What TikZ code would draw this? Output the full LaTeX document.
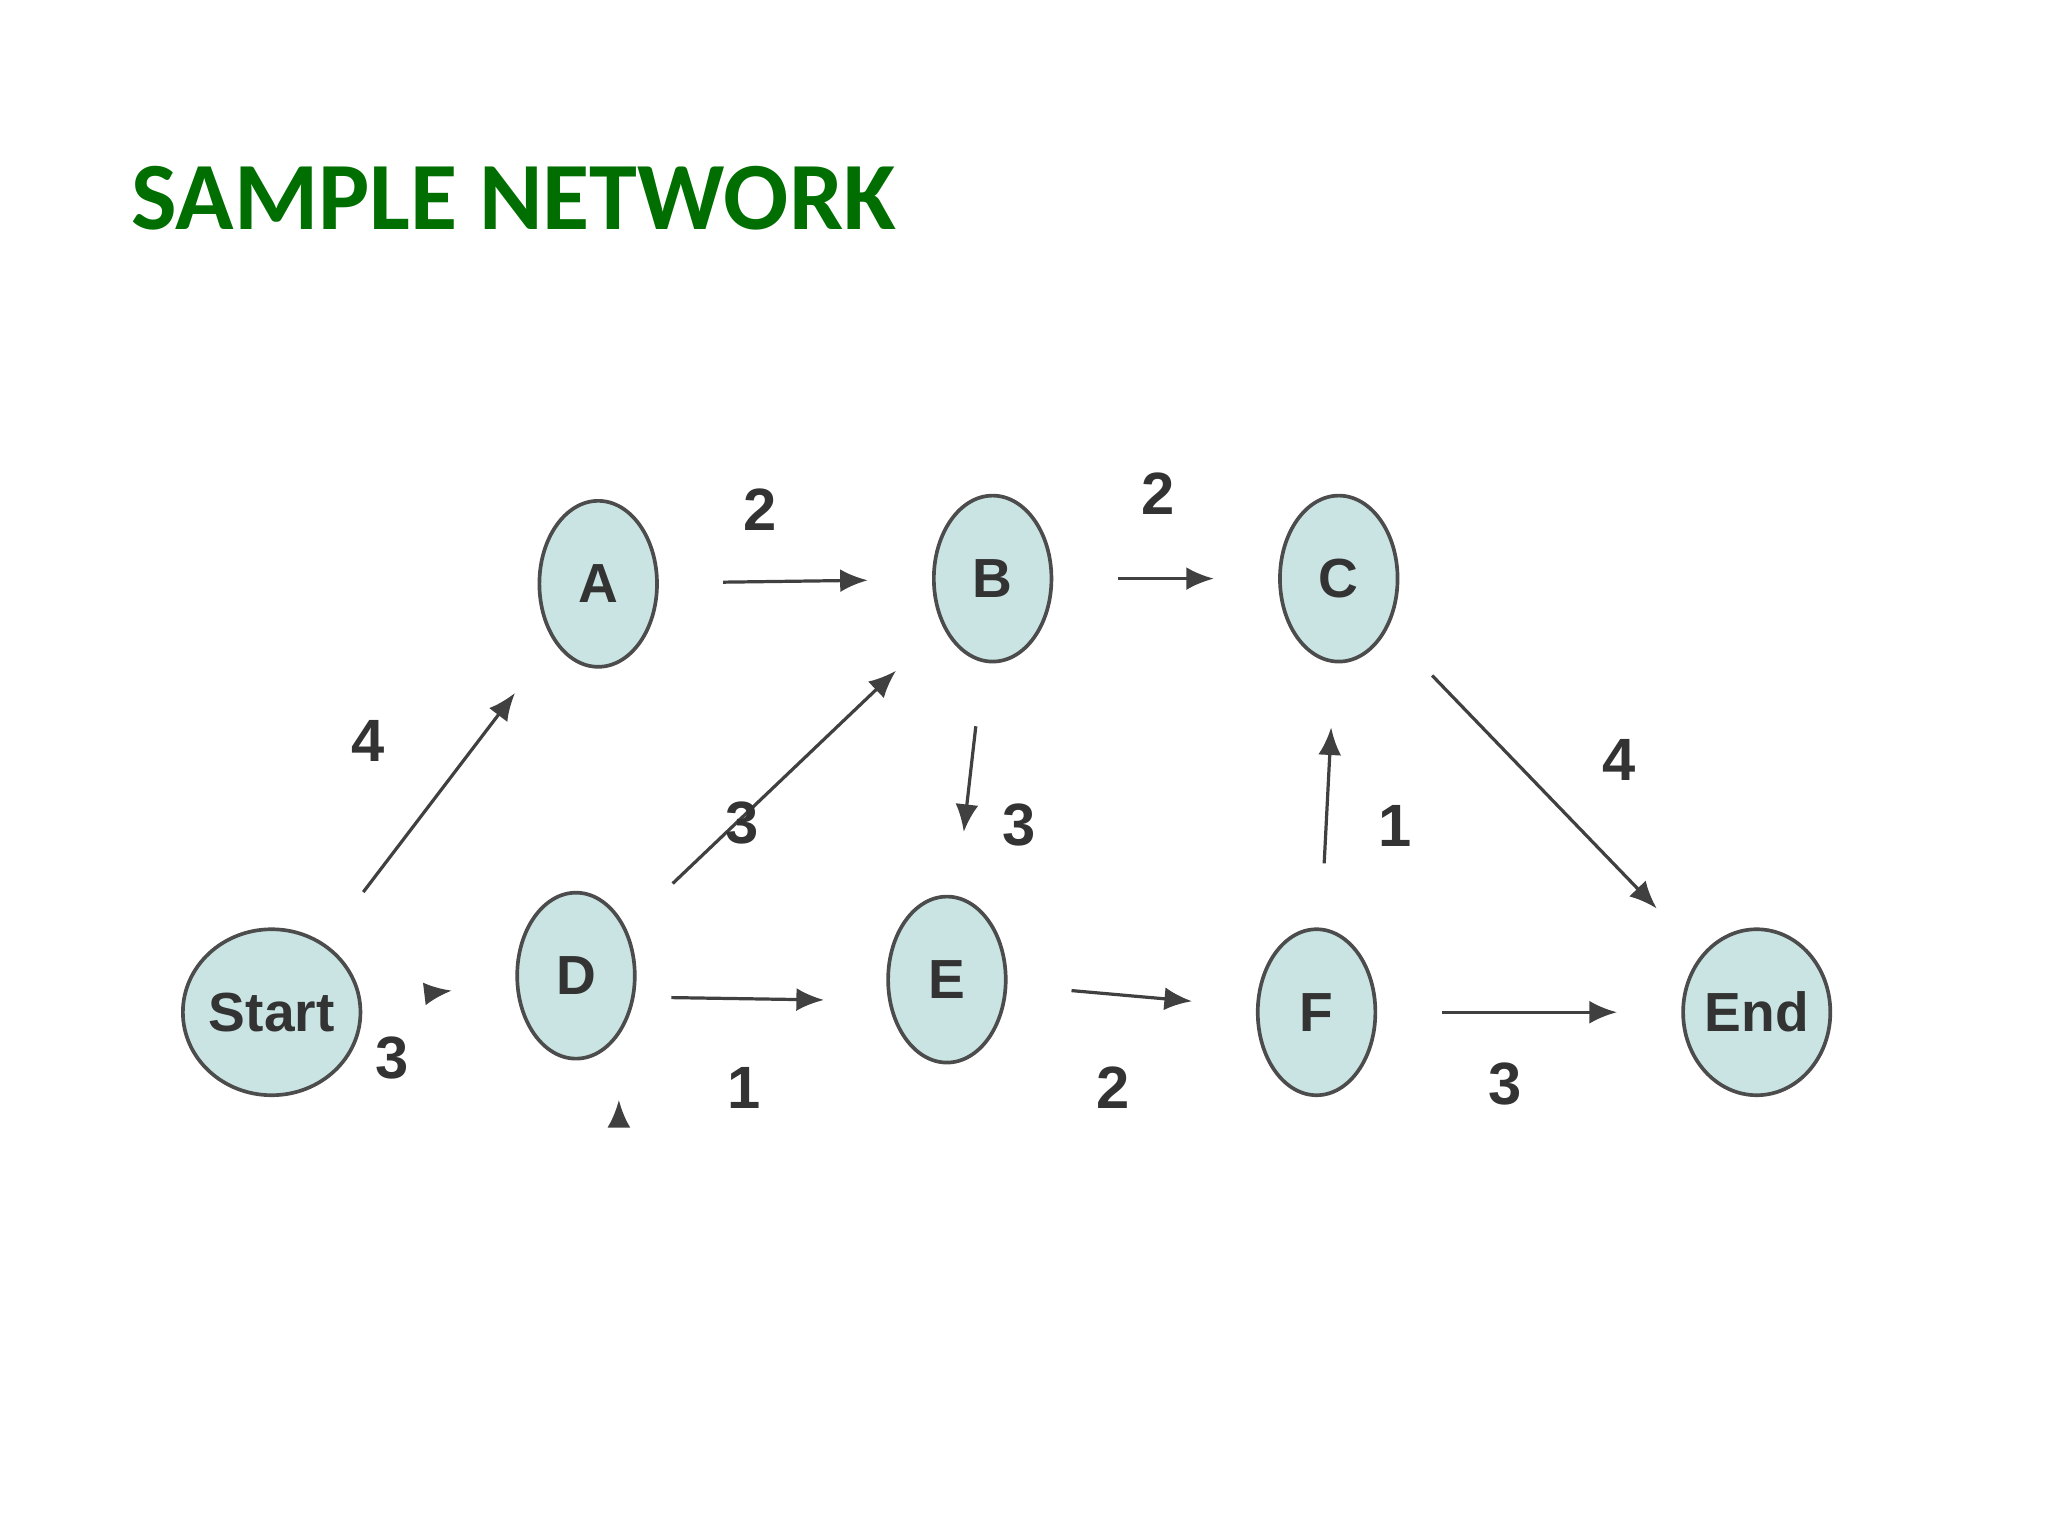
\documentclass[tikz,border=0pt]{standalone}
\usepackage{fontspec}
\setmainfont{Liberation Sans}
\newfontfamily\titlefont{Carlito}
\usetikzlibrary{shapes.geometric,arrows.meta}
\definecolor{nodefill}{RGB}{202,228,228}
\definecolor{titlegreen}{RGB}{0,110,0}
\tikzset{
  ev/.style={ellipse,draw=black!70,line width=0.8pt,fill=nodefill,minimum width=0.9cm,minimum height=1.27cm,inner sep=0pt,font=\fontsize{12}{12}\selectfont\bfseries,text=black!80},
  arr/.style={-{Latex[length=6pt,width=5pt]},black!75,line width=0.7pt,shorten >=14pt,shorten <=14pt},
  lbl/.style={font=\fontsize{13}{13}\selectfont\bfseries,text=black!80}
}
\begin{document}
\begin{tikzpicture}[x=0.01cm,y=-0.01cm]
\useasboundingbox (0,0) rectangle (1568,1176);
\node[anchor=west,font=\titlefont\fontsize{21}{21}\selectfont\bfseries,text=titlegreen] (title) at (88,152) {SAMPLE NETWORK};
\node[ev] (S) at (208,775) {Start};
\node[ev] (A) at (458,447) {A};
\node[ev] (B) at (760,443) {B};
\node[ev] (C) at (1025,443) {C};
\node[ev] (D) at (441,747) {D};
\node[ev] (E) at (725,750) {E};
\node[ev] (F) at (1008,775) {F};
\node[ev] (End) at (1345,775) {End};
\draw[arr] (S) -- (A);
\draw[arr] (S) -- (D);
\draw[arr] (A) -- (B);
\draw[arr] (B) -- (C);
\draw[arr] (D) -- (B);
\draw[arr] (B) -- (E);
\draw[arr] (D.south east) ++(0,0) coordinate (d1);
\draw[arr,shorten <=8pt] (D.-20) -- (E.-160);
\draw[arr] (E) -- (F);
\draw[arr] (F) -- (C);
\draw[arr] (C) -- (End);
\draw[arr] (F) -- (End);
\node[lbl] (l1) at (282,567) {4};
\node[lbl] (l2) at (300,810) {3};
\node[lbl] (l3) at (582,390) {2};
\node[lbl] (l4) at (887,378) {2};
\node[lbl] (l5) at (568,630) {3};
\node[lbl] (l6) at (780,632) {3};
\node[lbl] (l7) at (570,833) {1};
\node[lbl] (l8) at (852,833) {2};
\node[lbl] (l9) at (1068,632) {1};
\node[lbl] (l10) at (1240,582) {4};
\node[lbl] (l11) at (1152,830) {3};
\end{tikzpicture}
\end{document}
